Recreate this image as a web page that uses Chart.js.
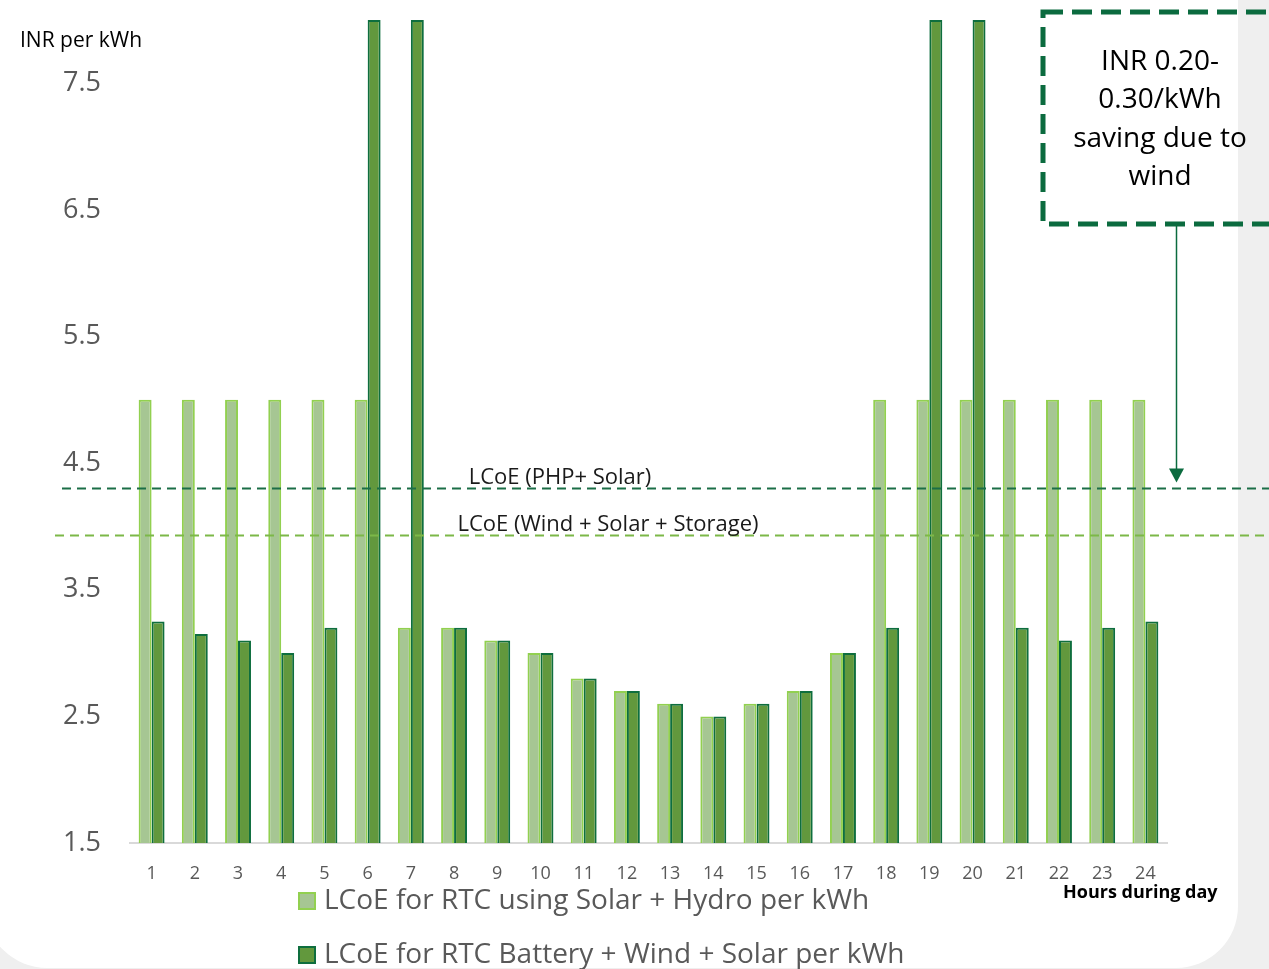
<!DOCTYPE html>
<html>
<head>
<meta charset="utf-8">
<script src="https://cdn.jsdelivr.net/npm/chart.js@4.4.0/dist/chart.umd.min.js"></script>
<style>
  html, body { margin: 0; padding: 0; background: #f0f0f0; }
  #wrap { width: 1269px; height: 969px; position: relative; }
</style>
</head>
<body>
<div id="wrap"><canvas id="myChart"></canvas></div>
<script>
// data
var hours = ["1", "2", "3", "4", "5", "6", "7", "8", "9", "10", "11", "12",
  "13", "14", "15", "16", "17", "18", "19", "20", "21", "22", "23", "24"];
var solarHydro = [5.0, 5.0, 5.0, 5.0, 5.0, 5.0, 3.2, 3.2, 3.1, 3.0, 2.8, 2.7,
  2.6, 2.5, 2.6, 2.7, 3.0, 5.0, 5.0, 5.0, 5.0, 5.0, 5.0, 5.0];
var batteryWindSolar = [3.25, 3.15, 3.1, 3.0, 3.2, 8.0, 8.0, 3.2, 3.1, 3.0, 2.8, 2.7,
  2.6, 2.5, 2.6, 2.7, 3.0, 3.2, 8.0, 8.0, 3.2, 3.1, 3.2, 3.25];
var yTicks = [1.5, 2.5, 3.5, 4.5, 5.5, 6.5, 7.5];
var refLabels = ["LCoE (PHP+ Solar)", "LCoE (Wind + Solar + Storage)"];
var refValues = [4.3, 3.93];
var noteLines = ["INR 0.20-", "0.30/kWh", "saving due to", "wind"];

var FONT = "'Open Sans', sans-serif";

var cardBackground = {
  id: "cardBackground",
  beforeDraw: function (chart) {
    var c = chart.ctx;
    c.save();
    c.fillStyle = "#efefef";
    c.fillRect(0, 0, chart.width, chart.height);
    c.fillStyle = "#ffffff";
    c.beginPath();
    c.roundRect(-15, -80, 1253, 1048, 62);
    c.fill();
    c.restore();
  }
};

var extras = {
  id: "extras",
  afterDatasetsDraw: function (chart) {
    var c = chart.ctx;
    var y = chart.scales.y;
    c.save();

    // reference lines
    var lineColors = ["#1b6e47", "#7cb848"];
    var lineStart = [62, 55];
    var labelX = [560, 608];
    for (var i = 0; i < refValues.length; i++) {
      var py = Math.round(y.getPixelForValue(refValues[i])) + 0.5;
      c.strokeStyle = lineColors[i];
      c.lineWidth = 2;
      c.setLineDash([9, 6]);
      c.beginPath();
      c.moveTo(lineStart[i], py);
      c.lineTo(chart.width, py);
      c.stroke();
      c.setLineDash([]);
      c.fillStyle = "#1a1a1a";
      c.font = "22px " + FONT;
      c.textAlign = "center";
      c.textBaseline = "bottom";
      c.fillText(refLabels[i], labelX[i], py);
    }

    // note box
    c.strokeStyle = "#0b6b3f";
    c.lineWidth = 5;
    c.setLineDash([20, 9]);
    c.strokeRect(1043, 12, 400, 212);
    c.setLineDash([]);
    c.fillStyle = "#000000";
    c.font = "28px " + FONT;
    c.textAlign = "center";
    c.textBaseline = "middle";
    for (var k = 0; k < noteLines.length; k++) {
      c.fillText(noteLines[k], 1160, 62 + k * 38.5);
    }

    // arrow down to the upper reference line
    var tipY = y.getPixelForValue(refValues[0]) - 6;
    c.strokeStyle = "#0b6b3f";
    c.lineWidth = 1.5;
    c.beginPath();
    c.moveTo(1176.5, 226);
    c.lineTo(1176.5, tipY - 12);
    c.stroke();
    c.fillStyle = "#0b6b3f";
    c.beginPath();
    c.moveTo(1169, tipY - 14);
    c.lineTo(1184, tipY - 14);
    c.lineTo(1176.5, tipY);
    c.closePath();
    c.fill();

    // axis titles
    c.fillStyle = "#000000";
    c.font = "21px " + FONT;
    c.textAlign = "left";
    c.fillText("INR per kWh", 20, 41);
    c.font = "bold 18px " + FONT;
    c.fillText("Hours during day", 1063, 893);

    // legend, stacked
    var legY = [901, 955];
    chart.data.datasets.forEach(function (ds, j) {
      c.fillStyle = ds.borderColor;
      c.fillRect(298, legY[j] - 9, 18, 18);
      c.fillStyle = ds.backgroundColor;
      c.fillRect(300, legY[j] - 7, 14, 14);
      c.fillStyle = "#595959";
      c.font = "28px " + FONT;
      c.textAlign = "left";
      c.fillText(ds.label, 324, legY[j]);
    });

    c.restore();
  }
};

document.addEventListener("DOMContentLoaded", function () {
  var ctx = document.getElementById("myChart").getContext("2d");

  var data = {
    labels: hours,
    datasets: [
      {
        label: "LCoE for RTC using Solar + Hydro per kWh",
        backgroundColor: "#a6c693",
        borderColor: "#92d050",
        borderWidth: 2,
        data: solarHydro,
      },
      {
        label: "LCoE for RTC Battery + Wind + Solar per kWh",
        backgroundColor: "#62983d",
        borderColor: "#0e6e3e",
        borderWidth: 2,
        data: batteryWindSolar,
      },
    ],
  };

  var options = {
    responsive: true,
    maintainAspectRatio: false,
    animation: false,
    layout: { padding: { top: 20, right: 102, left: 0, bottom: 0 } },
    plugins: {
      legend: { display: false },
      tooltip: { enabled: false },
    },
    datasets: {
      bar: { categoryPercentage: 0.6, barPercentage: 1.0 },
    },
    scales: {
      x: {
        grid: { display: false },
        border: { display: true, color: "#d9d9d9", width: 2 },
        ticks: { color: "#595959", font: { family: FONT, size: 18 }, padding: 12, maxRotation: 0 },
        afterFit: function (scale) {
          scale.height = 126;
          scale.paddingLeft = 0;
          scale.paddingRight = 0;
        },
      },
      y: {
        min: 1.5,
        max: 8.0,
        grid: { display: false },
        border: { display: false },
        ticks: { color: "#595959", font: { family: FONT, size: 27 }, padding: 21 },
        afterBuildTicks: function (scale) {
          scale.ticks = yTicks.map(function (v) { return { value: v }; });
        },
        afterFit: function (scale) {
          scale.width = 130;
          scale.paddingTop = 0;
          scale.paddingBottom = 0;
        },
      },
    },
  };

  new Chart(ctx, {
    type: "bar",
    data: data,
    options: options,
    plugins: [cardBackground, extras],
  });
});
</script>
</body>
</html>
